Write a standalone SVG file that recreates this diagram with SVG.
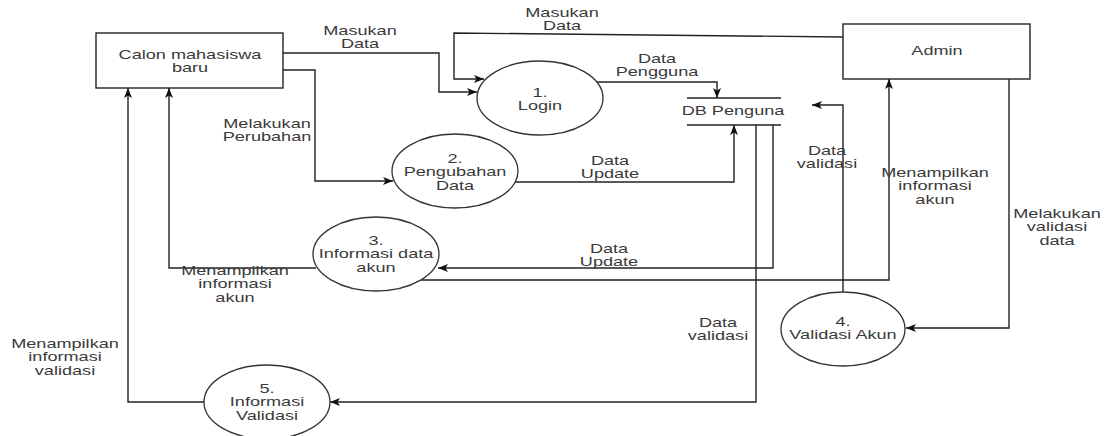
<svg xmlns="http://www.w3.org/2000/svg" width="1107" height="436" viewBox="0 0 1107 436">
  <style>
    .box{fill:#fff;stroke:#222;stroke-width:1.4}
    .proc{fill:#fff;stroke:#333;stroke-width:1.3}
    .store{stroke:#222;stroke-width:1.3}
    .flow{fill:none;stroke:#222;stroke-width:1.4;marker-end:url(#arr)}
    text{font-family:"Liberation Sans",Arial,sans-serif;font-size:12.5px;fill:#3a3a3a;text-anchor:middle}
  </style>
  <defs>
    <marker id="arr" markerUnits="userSpaceOnUse" markerWidth="12" markerHeight="12" viewBox="0 0 12 12" refX="11" refY="6" orient="auto">
      <path d="M1,2 L11,6 L1,10 L3.5,6 Z" fill="#111"/>
    </marker>
  </defs>

  <!-- data flows -->
  <g id="connectors">
    <path class="flow" d="M283,53 H439 V92 H477"/>
    <path class="flow" d="M843,37 L454,33 V79 H484"/>
    <path class="flow" d="M597,82 H717 V98"/>
    <path class="flow" d="M515,182 H734 V125"/>
    <path class="flow" d="M283,70 H315 V181 H393"/>
    <path class="flow" d="M773,125 V268 H438"/>
    <path class="flow" d="M756,125 V402 H330"/>
    <path class="flow" d="M421,280 H889 V79"/>
    <path class="flow" d="M843,292 V105 H812"/>
    <path class="flow" d="M1009,79 V328 H906"/>
    <path class="flow" d="M316,268 H169 V88"/>
    <path class="flow" d="M204,402 H128 V88"/>
  </g>

  <!-- flow labels -->
  <g id="flow-labels">
    <text transform="translate(360,35) scale(1.45,1)"><tspan x="0">Masukan</tspan><tspan x="0" dy="13.5">Data</tspan></text>
    <text transform="translate(562,16.5) scale(1.45,1)"><tspan x="0">Masukan</tspan><tspan x="0" dy="13.5">Data</tspan></text>
    <text transform="translate(657,63) scale(1.45,1)"><tspan x="0">Data</tspan><tspan x="0" dy="13.5">Pengguna</tspan></text>
    <text transform="translate(610,165) scale(1.45,1)"><tspan x="0">Data</tspan><tspan x="0" dy="13.5">Update</tspan></text>
    <text transform="translate(267,128) scale(1.45,1)"><tspan x="0">Melakukan</tspan><tspan x="0" dy="13.5">Perubahan</tspan></text>
    <text transform="translate(235,275) scale(1.45,1)"><tspan x="0">Menampilkan</tspan><tspan x="0" dy="13.5">informasi</tspan><tspan x="0" dy="13.5">akun</tspan></text>
    <text transform="translate(609,253) scale(1.45,1)"><tspan x="0">Data</tspan><tspan x="0" dy="13.5">Update</tspan></text>
    <text transform="translate(827,155) scale(1.45,1)"><tspan x="0">Data</tspan><tspan x="0" dy="13.5">validasi</tspan></text>
    <text transform="translate(935,177) scale(1.45,1)"><tspan x="0">Menampilkan</tspan><tspan x="0" dy="13.5">informasi</tspan><tspan x="0" dy="13.5">akun</tspan></text>
    <text transform="translate(1057,218) scale(1.45,1)"><tspan x="0">Melakukan</tspan><tspan x="0" dy="13.5">validasi</tspan><tspan x="0" dy="13.5">data</tspan></text>
    <text transform="translate(718,327) scale(1.45,1)"><tspan x="0">Data</tspan><tspan x="0" dy="13.5">validasi</tspan></text>
    <text transform="translate(65,348) scale(1.45,1)"><tspan x="0">Menampilkan</tspan><tspan x="0" dy="13.5">informasi</tspan><tspan x="0" dy="13.5">validasi</tspan></text>
  </g>

  <!-- external entities -->
  <g id="calon-mahasiswa">
    <rect class="box" x="96" y="33" width="187" height="55"/>
    <text transform="translate(190,58.5) scale(1.45,1)"><tspan x="0">Calon mahasiswa</tspan><tspan x="0" dy="13.5">baru</tspan></text>
  </g>
  <g id="admin">
    <rect class="box" x="843" y="24" width="187" height="55"/>
    <text transform="translate(937,55) scale(1.45,1)">Admin</text>
  </g>

  <!-- processes -->
  <g id="p1-login">
    <ellipse class="proc" cx="540" cy="98" rx="63" ry="37"/>
    <text transform="translate(540,97) scale(1.45,1)"><tspan x="0">1.</tspan><tspan x="0" dy="13.5">Login</tspan></text>
  </g>
  <g id="p2-pengubahan">
    <ellipse class="proc" cx="455" cy="171" rx="63" ry="37"/>
    <text transform="translate(455,163) scale(1.45,1)"><tspan x="0">2.</tspan><tspan x="0" dy="13.5">Pengubahan</tspan><tspan x="0" dy="13.5">Data</tspan></text>
  </g>
  <g id="p3-informasi-akun">
    <ellipse class="proc" cx="376" cy="254" rx="63" ry="37"/>
    <text transform="translate(376,245) scale(1.45,1)"><tspan x="0">3.</tspan><tspan x="0" dy="13.5">Informasi data</tspan><tspan x="0" dy="13.5">akun</tspan></text>
  </g>
  <g id="p4-validasi-akun">
    <ellipse class="proc" cx="843" cy="329" rx="62" ry="37"/>
    <text transform="translate(843,326) scale(1.45,1)"><tspan x="0">4.</tspan><tspan x="0" dy="13.5">Validasi Akun</tspan></text>
  </g>
  <g id="p5-informasi-validasi">
    <ellipse class="proc" cx="267" cy="402" rx="63" ry="37"/>
    <text transform="translate(267,393) scale(1.45,1)"><tspan x="0">5.</tspan><tspan x="0" dy="13.5">Informasi</tspan><tspan x="0" dy="13.5">Validasi</tspan></text>
  </g>

  <!-- data store -->
  <g id="db-penguna">
    <line class="store" x1="687" y1="98" x2="781" y2="98"/>
    <line class="store" x1="687" y1="125" x2="781" y2="125"/>
    <text transform="translate(733,115) scale(1.45,1)">DB Penguna</text>
  </g>
</svg>
